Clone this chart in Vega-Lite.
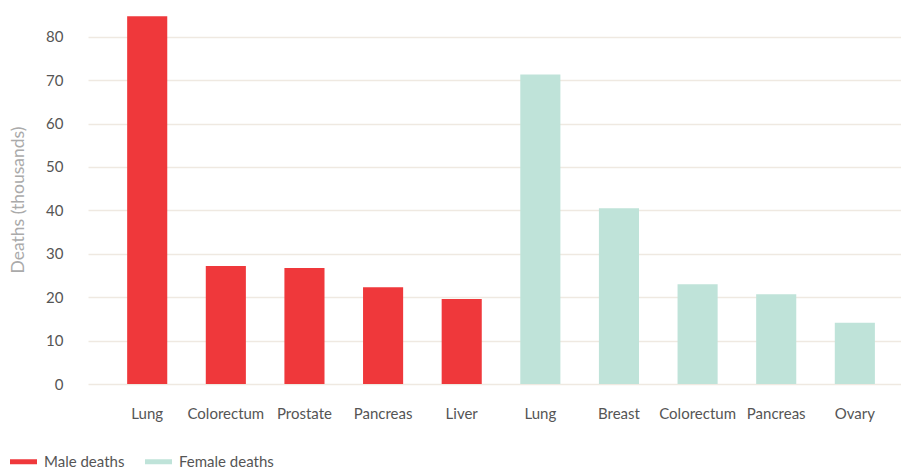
{
  "$schema": "https://vega.github.io/schema/vega-lite/v6.json",
  "autosize": "none",
  "width": 813,
  "height": 369,
  "padding": {"left": 88, "top": 15, "right": 0, "bottom": 88},
  "background": "white",
  "config": {
    "font": "Lato",
    "view": {"stroke": null}
  },
  "data": {
    "values": [
      {"id": "m1", "cancer": "Lung", "group": "Male deaths", "deaths": 84.7},
      {"id": "m2", "cancer": "Colorectum", "group": "Male deaths", "deaths": 27.2},
      {"id": "m3", "cancer": "Prostate", "group": "Male deaths", "deaths": 26.7},
      {"id": "m4", "cancer": "Pancreas", "group": "Male deaths", "deaths": 22.3},
      {"id": "m5", "cancer": "Liver", "group": "Male deaths", "deaths": 19.6},
      {"id": "f1", "cancer": "Lung", "group": "Female deaths", "deaths": 71.3},
      {"id": "f2", "cancer": "Breast", "group": "Female deaths", "deaths": 40.5},
      {"id": "f3", "cancer": "Colorectum", "group": "Female deaths", "deaths": 23.0},
      {"id": "f4", "cancer": "Pancreas", "group": "Female deaths", "deaths": 20.7},
      {"id": "f5", "cancer": "Ovary", "group": "Female deaths", "deaths": 14.1}
    ]
  },
  "mark": {"type": "bar"},
  "encoding": {
    "x": {
      "field": "id",
      "type": "nominal",
      "sort": null,
      "scale": {"paddingInner": 0.49, "paddingOuter": 0.415, "align": 0.6},
      "axis": {
        "title": null,
        "labelAngle": 0,
        "labelExpr": "{'m1':'Lung','m2':'Colorectum','m3':'Prostate','m4':'Pancreas','m5':'Liver','f1':'Lung','f2':'Breast','f3':'Colorectum','f4':'Pancreas','f5':'Ovary'}[datum.value]",
        "labelFont": "Lato",
        "labelFontSize": 15,
        "labelColor": "#555555",
        "labelPadding": 22,
        "ticks": false,
        "domain": false
      }
    },
    "y": {
      "field": "deaths",
      "type": "quantitative",
      "scale": {"domain": [0, 85], "nice": false},
      "axis": {
        "title": "Deaths (thousands)",
        "titleFont": "Lato",
        "titleFontSize": 17.5,
        "titleFontWeight": "normal",
        "titleColor": "#aaaaaa",
        "titleBaseline": "middle",
        "titleX": -70,
        "values": [0, 10, 20, 30, 40, 50, 60, 70, 80],
        "labelFont": "Lato",
        "labelFontSize": 15,
        "labelColor": "#555555",
        "labelPadding": 25,
        "ticks": false,
        "domain": false,
        "grid": true,
        "gridColor": "#efe9e1",
        "gridWidth": 1.3
      }
    },
    "color": {
      "field": "group",
      "type": "nominal",
      "scale": {"domain": ["Male deaths", "Female deaths"], "range": ["#ef383b", "#bfe3d9"]},
      "legend": {
        "title": null,
        "orient": "none",
        "direction": "horizontal",
        "legendX": -78,
        "legendY": 433,
        "symbolType": "M-1,-0.185H1V0.185H-1Z",
        "symbolSize": 729,
        "symbolStrokeWidth": 0,
        "labelFont": "Lato",
        "labelFontSize": 15,
        "labelColor": "#555555",
        "labelOffset": 7,
        "columnPadding": 20
      }
    }
  }
}
